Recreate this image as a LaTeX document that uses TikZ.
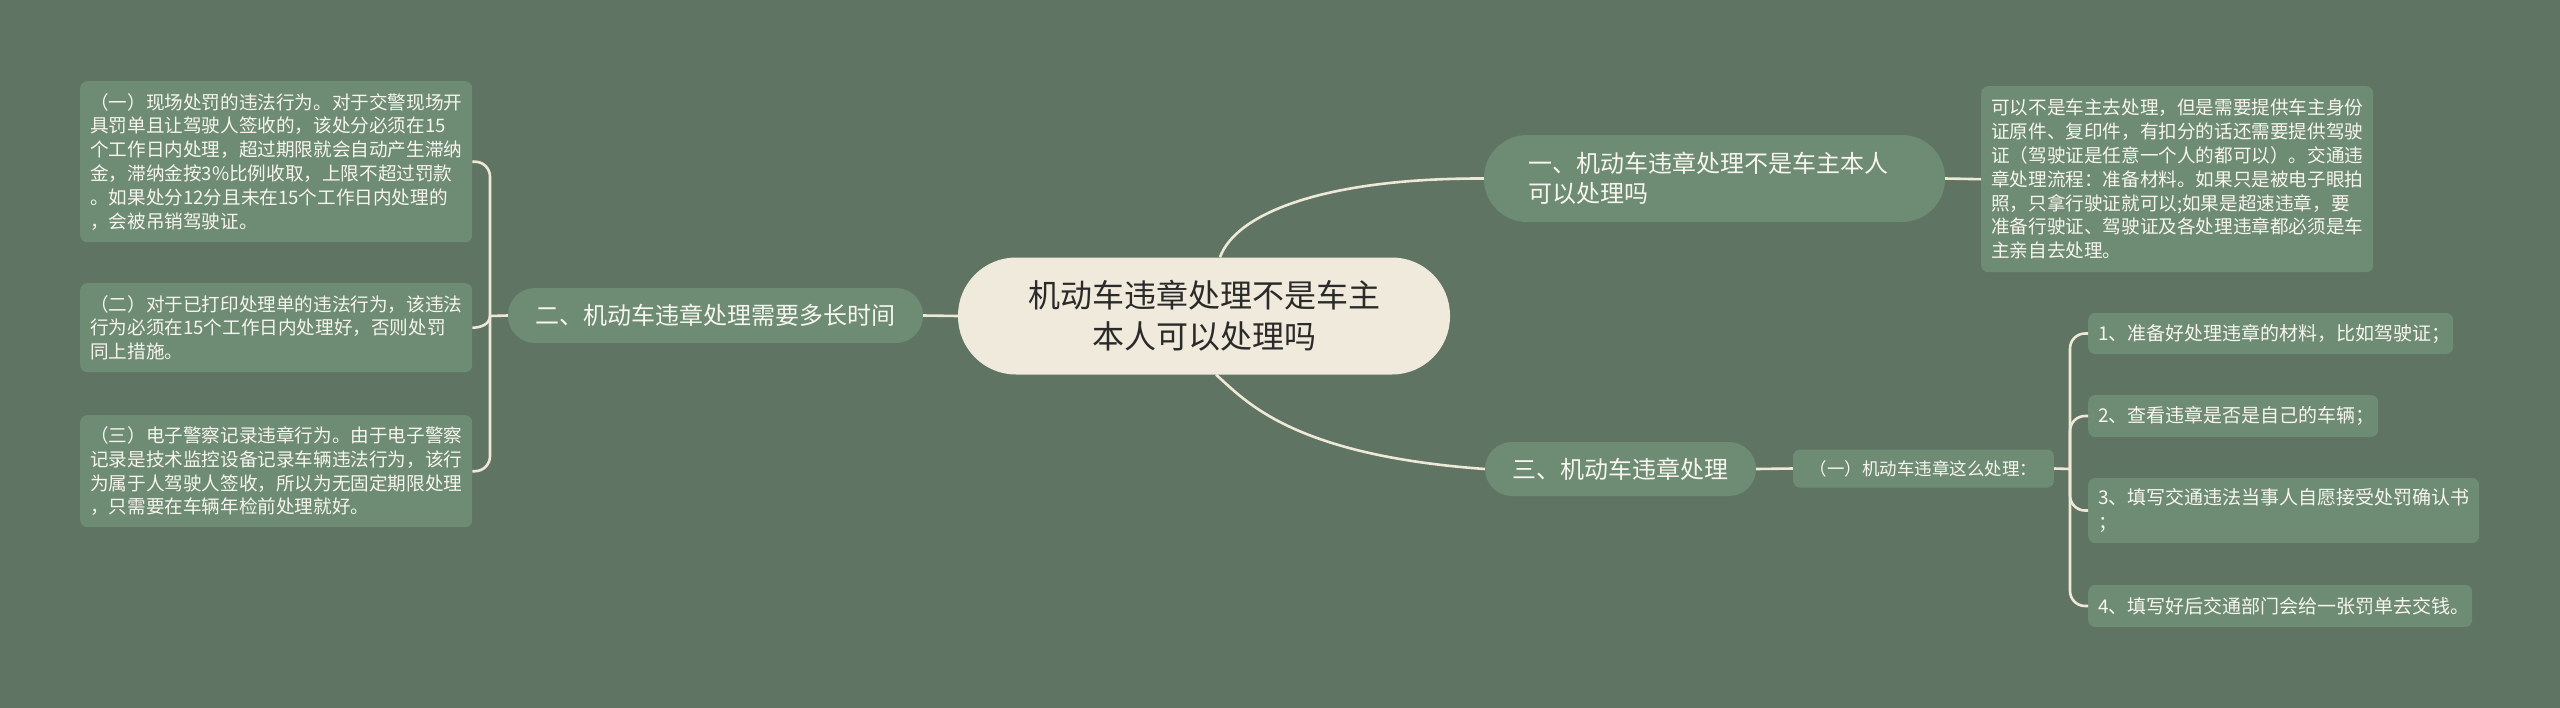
\documentclass[tikz,border=0pt]{standalone}
\usepackage{fontspec}
\setmainfont{Noto Sans CJK SC}
\usetikzlibrary{calc}
\definecolor{bg}{HTML}{607464}
\definecolor{nodefill}{HTML}{6E8B74}
\definecolor{centerfill}{HTML}{EFEADB}
\definecolor{linecol}{HTML}{EEE9D6}
\definecolor{lighttext}{HTML}{F7F6EE}
\definecolor{darktext}{HTML}{2A2A2A}
\begin{document}
\begin{tikzpicture}[x=1pt,y=-1pt,
  conn/.style={draw=linecol, line width=2.6pt},
  pill/.style={fill=nodefill, text=lighttext, inner sep=0pt, font=\fontsize{24}{30}\selectfont},
  box/.style={fill=nodefill, text=lighttext, rounded corners=7pt, inner xsep=10pt, inner ysep=0pt, align=left, font=\fontsize{18.6}{23.8}\selectfont},
  itembox/.style={box, font=\fontsize{19}{25}\selectfont, anchor=west},
]
\useasboundingbox (0,0) rectangle (2560,707);
\fill[bg] (-10,-10) rectangle (2570,717);

% central
\node[fill=centerfill, text=darktext, rounded corners=58pt, minimum width=492pt, minimum height=117pt,
      inner sep=0pt, align=center, font=\fontsize{32}{41}\selectfont] (c) at (1204,316)
      {机动车违章处理不是车主\\本人可以处理吗};

% branch 1
\node[pill, rounded corners=43pt, minimum width=461pt, minimum height=87pt, inner xsep=44pt,
      text width=373pt, align=left] (n1) at (1714.5,178.5)
      {一、机动车违章处理不是车主本人\\可以处理吗};
\node[box, anchor=north west, text width=372pt, minimum height=186pt] (r1) at (1981,86)
      {可以不是车主去处理，但是需要提供车主身份\\
       证原件、复印件，有扣分的话还需要提供驾驶\\
       证（驾驶证是任意一个人的都可以）。交通违\\
       章处理流程：准备材料。如果只是被电子眼拍\\
       照，只拿行驶证就可以;如果是超速违章，要\\
       准备行驶证、驾驶证及各处理违章都必须是车\\
       主亲自去处理。};

% branch 2
\node[pill, rounded corners=27pt, minimum width=415pt, minimum height=55pt] (n2) at (715.5,315.5)
      {二、机动车违章处理需要多长时间};
\node[box, anchor=north west, text width=372pt, minimum height=161pt] (bA) at (80,81)
      {（一）现场处罚的违法行为。对于交警现场开\\
       具罚单且让驾驶人签收的，该处分必须在15\\
       个工作日内处理，超过期限就会自动产生滞纳\\
       金，滞纳金按3\%比例收取，上限不超过罚款\\
       。如果处分12分且未在15个工作日内处理的\\
       ，会被吊销驾驶证。};
\node[box, anchor=north west, text width=372pt, minimum height=89pt] (bB) at (80,283)
      {（二）对于已打印处理单的违法行为，该违法\\
       行为必须在15个工作日内处理好，否则处罚\\
       同上措施。};
\node[box, anchor=north west, text width=372pt, minimum height=112pt] (bC) at (80,415)
      {（三）电子警察记录违章行为。由于电子警察\\
       记录是技术监控设备记录车辆违法行为，该行\\
       为属于人驾驶人签收，所以为无固定期限处理\\
       ，只需要在车辆年检前处理就好。};

% branch 3
\node[pill, rounded corners=27pt, minimum width=271pt, minimum height=54pt] (n3) at (1620.5,469)
      {三、机动车违章处理};
\node[box, rounded corners=7pt, inner xsep=0pt, minimum width=261pt, minimum height=38pt,
      font=\fontsize{17.5}{22}\selectfont] (s3) at (1923.5,468.5)
      {（一）机动车违章这么处理：};
\node[itembox, text width=345pt, minimum height=41pt] (i1) at (2088,333.5)
      {1、准备好处理违章的材料，比如驾驶证；};
\node[itembox, text width=270pt, minimum height=42pt] (i2) at (2088,416)
      {2、查看违章是否是自己的车辆；};
\node[itembox, text width=371pt, minimum height=65pt] (i3) at (2088,510.5)
      {3、填写交通违法当事人自愿接受处罚确认书\\；};
\node[itembox, text width=364pt, minimum height=42pt] (i4) at (2088,606)
      {4、填写好后交通部门会给一张罚单去交钱。};

% junctions
\coordinate (jL) at (490,316);
\coordinate (jR) at (2070,469);

% connectors
\draw[conn] ([xshift=16pt]c.north) .. controls (1235,215) and (1320,178) .. (n1.west);
\draw[conn] ([xshift=12pt]c.south) .. controls (1245,400) and (1290,455) .. (n3.west);
\draw[conn] (n1.east) -- (r1.west);
\draw[conn] (c.west) -- (n2.east);
\draw[conn] (n2.west) -- (jL);
\draw[conn, rounded corners=15pt] (jL) |- (bA.east);
\draw[conn] (jL) to[out=-90, in=0] (bB.east);
\draw[conn, rounded corners=15pt] (jL) |- (bC.east);
\draw[conn] (n3.east) -- (s3.west);
\draw[conn] (s3.east) -- (jR);
\draw[conn, rounded corners=15pt] (jR) |- (i1.west);
\draw[conn, rounded corners=15pt] (jR) |- (i2.west);
\draw[conn, rounded corners=15pt] (jR) |- (i3.west);
\draw[conn, rounded corners=15pt] (jR) |- (i4.west);
\end{tikzpicture}
\end{document}
